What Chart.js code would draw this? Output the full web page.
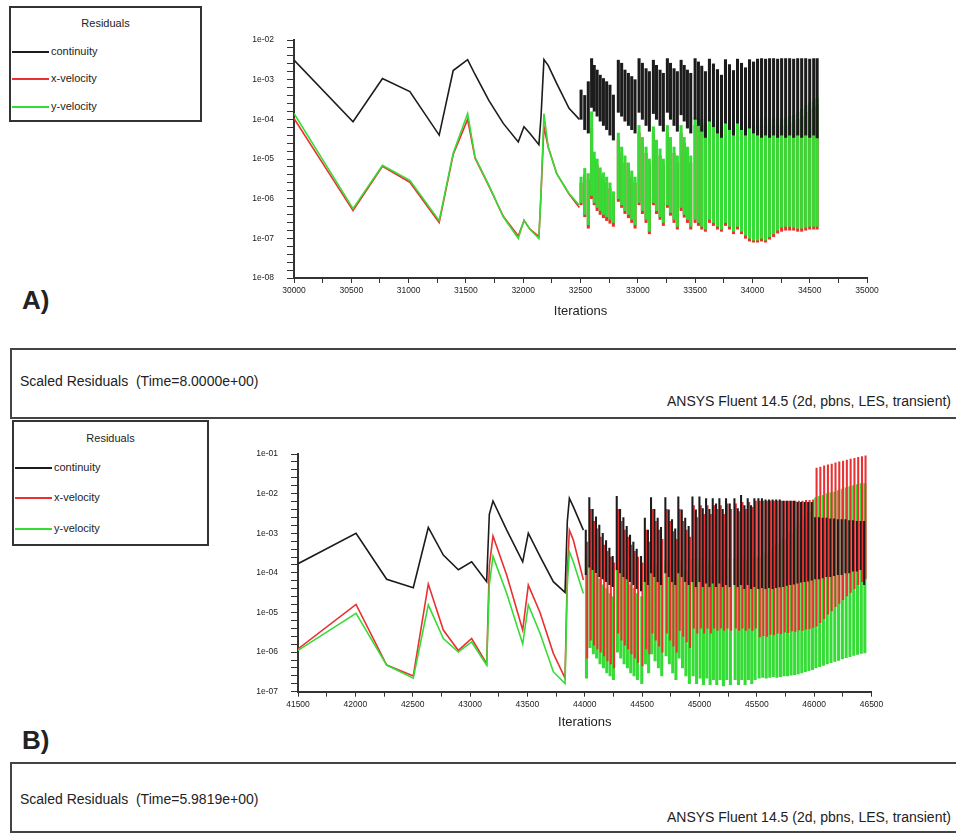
<!DOCTYPE html>
<html>
<head>
<meta charset="utf-8">
<script src="https://cdn.jsdelivr.net/npm/chart.js@4.4.1/dist/chart.umd.min.js"></script>
<style>
body { margin: 0; width: 956px; height: 833px; background: #fff; position: relative; overflow: hidden;
       font-family: 'Liberation Sans', Arial, sans-serif; color: #222; }
canvas { position: absolute; }
.legend { position: absolute; border: 2px solid #333; box-sizing: border-box; background: #fff; }
.legend .title { position: absolute; left: 0; width: 100%; text-align: center; font-size: 11px; line-height: 13px; }
.legend .item { position: absolute; font-size: 11px; line-height: 13px; white-space: nowrap; }
.legend .item i { display: inline-block; width: 37px; border-top: 2px solid; vertical-align: middle; margin-right: 2px; }
.panel { position: absolute; left: 22px; font-weight: bold; font-size: 26px; line-height: 30px; }
.caption { position: absolute; left: 10px; width: 960px; height: 71px; border: 2px solid #444; box-sizing: border-box; }
.txt { position: absolute; font-size: 14px; line-height: 16px; white-space: pre; }
</style>
</head>
<body>

<div class="legend" style="left:9px; top:6px; width:193px; height:116px;">
    <div class="title" style="top:9px;">Residuals</div>
    <div class="item" style="left:1px; top:37px;"><i style="border-color:#1c1c1c"></i>continuity</div>
    <div class="item" style="left:1px; top:64px;"><i style="border-color:#ea3030"></i>x-velocity</div>
    <div class="item" style="left:1px; top:92px;"><i style="border-color:#36dc36"></i>y-velocity</div>
</div>
<canvas id="chartA" width="660" height="310" style="left:230px; top:20px;"></canvas>
<div class="panel" style="top:285px;">A)</div>
<div class="caption" style="top:348px;"></div>
<div class="txt" style="left:20px; top:373px;">Scaled Residuals  (Time=8.0000e+00)</div>
<div class="txt" style="right:5px; top:393px;">ANSYS Fluent 14.5 (2d, pbns, LES, transient)</div>

<div class="legend" style="left:12px; top:420px; width:197px; height:126px;">
    <div class="title" style="top:10px;">Residuals</div>
    <div class="item" style="left:1px; top:39px;"><i style="border-color:#1c1c1c"></i>continuity</div>
    <div class="item" style="left:1px; top:69px;"><i style="border-color:#ea3030"></i>x-velocity</div>
    <div class="item" style="left:1px; top:100px;"><i style="border-color:#36dc36"></i>y-velocity</div>
</div>
<canvas id="chartB" width="660" height="310" style="left:230px; top:434px;"></canvas>
<div class="panel" style="top:725px;">B)</div>
<div class="caption" style="top:762px;"></div>
<div class="txt" style="left:20px; top:791px;">Scaled Residuals  (Time=5.9819e+00)</div>
<div class="txt" style="right:5px; top:809px;">ANSYS Fluent 14.5 (2d, pbns, LES, transient)</div>

<script>
// ---------------- panel A data ----------------
const xLabelsA = ['30000', '30500', '31000', '31500', '32000', '32500', '33000', '33500', '34000', '34500', '35000'];
const yLabelsA = ['1e-08', '1e-07', '1e-06', '1e-05', '1e-04', '1e-03', '1e-02'];

// smooth part before the time-step oscillation
const itersPreA = [30000, 30515, 30772, 31011, 31267, 31389, 31515, 31580, 31700, 31826, 31957, 32007, 32059, 32137, 32155, 32181, 32218, 32292, 32400, 32490];
const contPreA = [3.1e-3, 8.7e-5, 1.07e-3, 5e-4, 4e-5, 1.7e-3, 3.2e-3, 1.35e-3, 3e-4, 7.9e-5, 2.7e-5, 6.5e-5, 4.4e-5, 2.3e-5, 1.1e-4, 3.2e-3, 2.3e-3, 8.1e-4, 1.9e-4, 1e-4];
const xvelPreA = [1.05e-4, 5e-7, 6.5e-6, 2.6e-6, 2.5e-7, 1.3e-5, 1e-4, 1.05e-5, 2.1e-6, 3.6e-7, 1.15e-7, 2.8e-7, 1.7e-7, 1.1e-7, 1.2e-6, 6.5e-5, 2e-5, 4.3e-6, 1.3e-6, 6e-7];
const yvelPreA = [1.4e-4, 5.6e-7, 6.9e-6, 2.9e-6, 2.8e-7, 1.4e-5, 1.4e-4, 1.1e-5, 2.2e-6, 3.5e-7, 1e-7, 2.9e-7, 1.7e-7, 9.8e-8, 1.3e-6, 1.4e-4, 2e-5, 4.3e-6, 1.35e-6, 6.8e-7];

// time steps: each step spans from a low to a high residual
const stepsA = [32505, 32537, 32568,
    32597, 32620, 32645, 32672, 32700, 32728, 32757, 32787,
    32830, 32859, 32888, 32918, 32947, 32976,
    33011, 33040, 33072, 33101,
    33136, 33163, 33194, 33223,
    33258, 33285, 33316, 33345,
    33378, 33405, 33433, 33462,
    33500, 33529, 33558, 33590,
    33625, 33660, 33695, 33730,
    33765, 33800, 33835,
    33870, 33905, 33940,
    33975, 34010,
    34045, 34080, 34115, 34150, 34185, 34220, 34255, 34290, 34325, 34360, 34395, 34430, 34465, 34500, 34535, 34565];
const contHiA = [5.5e-4, 4e-4, 8.9e-4,
    3.4e-3, 2.3e-3, 1.75e-3, 1.3e-3, 1.07e-3, 8.9e-4, 7.3e-4, 4.1e-4,
    3.1e-3, 2.6e-3, 1.75e-3, 1.45e-3, 1.2e-3, 1e-3,
    3.4e-3, 2.6e-3, 1.9e-3, 1.6e-3,
    3.1e-3, 2.3e-3, 1.75e-3, 1.45e-3,
    3.4e-3, 2.6e-3, 1.9e-3, 1.6e-3,
    3.1e-3, 2.3e-3, 1.75e-3, 1.45e-3,
    3.4e-3, 2.8e-3, 2.2e-3, 1.6e-3,
    3.3e-3, 2.5e-3, 1.8e-3, 1.3e-3,
    3.2e-3, 2.4e-3, 1.7e-3,
    3.3e-3, 2.6e-3, 2e-3,
    3.2e-3, 2.8e-3,
    3.3e-3, 3.4e-3, 3.3e-3, 3.4e-3, 3.4e-3, 3.3e-3, 3.4e-3, 3.4e-3, 3.4e-3, 3.3e-3, 3.4e-3, 3.4e-3, 3.4e-3, 3.3e-3, 3.4e-3, 3.4e-3];
const contLoA = [1e-4, 5.5e-5, 4.5e-5,
    2e-4, 1.6e-4, 1.2e-4, 9e-5, 7e-5, 5.5e-5, 4e-5, 3e-5,
    1.5e-4, 1.2e-4, 9e-5, 7e-5, 5.5e-5, 4.5e-5,
    1.5e-4, 1e-4, 7e-5, 5e-5,
    1.4e-4, 1e-4, 7e-5, 5e-5,
    1.5e-4, 1e-4, 7e-5, 5e-5,
    1.3e-4, 9e-5, 6e-5, 4.5e-5,
    1e-4, 7e-5, 5e-5, 3.5e-5,
    9e-5, 6.5e-5, 4.5e-5, 3.5e-5,
    8e-5, 5.5e-5, 4e-5,
    8e-5, 5.5e-5, 4e-5,
    6e-5, 4.5e-5,
    4e-5, 3.5e-5, 4e-5, 3.5e-5, 4e-5, 3.5e-5, 4e-5, 3.5e-5, 4e-5, 3.5e-5, 4e-5, 3.5e-5, 4e-5, 3.5e-5, 4e-5, 3.4e-5];
const xvelHiA = [2.5e-6, 4e-6, 3e-6,
    6e-5, 1e-5, 7e-6, 4e-6, 3e-6, 2.5e-6, 1.8e-6, 1.1e-6,
    3e-5, 1.4e-5, 8e-6, 5.5e-6, 3.5e-6, 2.5e-6,
    4.5e-5, 2.5e-5, 1.4e-5, 7e-6,
    4.5e-5, 2e-5, 1.2e-5, 7e-6,
    4.5e-5, 2.5e-5, 1.4e-5, 8e-6,
    4.5e-5, 2.5e-5, 1.4e-5, 8e-6,
    7e-5, 6e-5, 7e-5, 5e-5,
    7e-5, 6e-5, 7e-5, 5e-5,
    7e-5, 6e-5, 7e-5,
    7e-5, 6e-5, 7e-5,
    7e-5, 7e-5,
    7e-5, 7e-5, 7e-5, 7e-5, 7e-5, 7e-5, 7e-5, 7e-5, 8e-5, 9e-5, 1e-4, 1.2e-4, 1.5e-4, 1.8e-4, 2e-4, 2.2e-4];
const xvelLoA = [7e-7, 3.5e-7, 1.8e-7,
    1e-6, 7e-7, 5e-7, 4e-7, 3.3e-7, 2.8e-7, 2.4e-7, 2e-7,
    8.5e-7, 6e-7, 4.2e-7, 3.3e-7, 2.5e-7, 1.8e-7,
    7e-7, 4.2e-7, 2.5e-7, 1.3e-7,
    7e-7, 4.2e-7, 3e-7, 2.1e-7,
    6e-7, 3.8e-7, 2.5e-7, 1.7e-7,
    5e-7, 3.4e-7, 2.5e-7, 1.7e-7,
    2.5e-7, 2.1e-7, 1.7e-7, 1.5e-7,
    2.5e-7, 2.1e-7, 1.7e-7, 1.5e-7,
    2.1e-7, 1.7e-7, 1.3e-7,
    1.7e-7, 1.3e-7, 1e-7,
    8.5e-8, 8e-8,
    8e-8, 8.5e-8, 8e-8, 9.5e-8, 1.1e-7, 1.35e-7, 1.5e-7, 1.6e-7, 1.6e-7, 1.6e-7, 1.5e-7, 1.5e-7, 1.6e-7, 1.7e-7, 1.7e-7, 1.7e-7];
const yvelHiA = [3.5e-6, 5.8e-6, 4.3e-6,
    1.55e-4, 1.5e-5, 1e-5, 6e-6, 4.5e-6, 3.5e-6, 2.5e-6, 1.5e-6,
    4.5e-5, 2e-5, 1.2e-5, 8e-6, 5e-6, 3.5e-6,
    7e-5, 3.5e-5, 2e-5, 1e-5,
    6.5e-5, 3e-5, 1.8e-5, 1e-5,
    7e-5, 3.5e-5, 2e-5, 1.2e-5,
    7e-5, 3.5e-5, 2e-5, 1.2e-5,
    1.1e-4, 9e-5, 1e-4, 8e-5,
    1.1e-4, 9e-5, 1e-4, 8e-5,
    1.1e-4, 9e-5, 1e-4,
    1.1e-4, 9e-5, 1e-4,
    1.1e-4, 1e-4,
    1.1e-4, 1e-4, 1.1e-4, 1e-4, 1.1e-4, 1.1e-4, 1e-4, 1.1e-4, 1.2e-4, 1.3e-4, 1.5e-4, 1.8e-4, 2.2e-4, 2.6e-4, 3e-4, 3.4e-4];
const yvelLoA = [8e-7, 4e-7, 2.2e-7,
    1.2e-6, 8e-7, 6e-7, 5e-7, 4e-7, 3.5e-7, 3e-7, 2.5e-7,
    1e-6, 7e-7, 5e-7, 4e-7, 3e-7, 2.2e-7,
    8e-7, 5e-7, 3e-7, 1.5e-7,
    8e-7, 5e-7, 3.5e-7, 2.5e-7,
    7e-7, 4.5e-7, 3e-7, 2e-7,
    6e-7, 4e-7, 3e-7, 2e-7,
    3e-7, 2.5e-7, 2e-7, 1.7e-7,
    3e-7, 2.5e-7, 2e-7, 1.7e-7,
    2.5e-7, 2e-7, 1.5e-7,
    2e-7, 1.5e-7, 1.2e-7,
    1e-7, 9e-8,
    9e-8, 1e-7, 9e-8, 1.1e-7, 1.3e-7, 1.6e-7, 1.9e-7, 2e-7, 2e-7, 1.9e-7, 1.8e-7, 1.8e-7, 1.9e-7, 2e-7, 2e-7, 2e-7];

// ---------------- panel B data ----------------
const xLabelsB = ['41500', '42000', '42500', '43000', '43500', '44000', '44500', '45000', '45500', '46000', '46500'];
const yLabelsB = ['1e-07', '1e-06', '1e-05', '1e-04', '1e-03', '1e-02', '1e-01'];

const itersPreB = [41500, 42006, 42273, 42505, 42636, 42767, 42898, 43014, 43145, 43168, 43200, 43320, 43459, 43508, 43610, 43726, 43828, 43848, 43866, 43900, 43988];
const contPreB = [1.7e-4, 1e-3, 6.9e-5, 4.2e-5, 1.4e-3, 2.8e-4, 1.2e-4, 1.9e-4, 6e-5, 3e-3, 6.5e-3, 1.2e-3, 1.9e-4, 1e-3, 2.6e-4, 6e-5, 3.2e-5, 2e-3, 7.6e-3, 4.7e-3, 1.2e-3];
const xvelPreB = [1.2e-6, 1.6e-5, 4.7e-7, 2.5e-7, 5.2e-5, 3.6e-6, 1.1e-6, 2.2e-6, 5.1e-7, 1.5e-4, 8.5e-4, 8.7e-5, 3.6e-6, 4.9e-5, 1e-5, 9.3e-7, 2.2e-7, 1e-4, 1.2e-3, 6.8e-4, 6.6e-5];
const yvelPreB = [1.1e-6, 9.5e-6, 4.7e-7, 2.2e-7, 1.55e-5, 2.2e-6, 1e-6, 1.8e-6, 4.7e-7, 5e-5, 2.6e-4, 3e-5, 1.6e-6, 1.55e-5, 3e-6, 3.2e-7, 1.6e-7, 5e-5, 3.4e-4, 1.9e-4, 3e-5];

const stepsB = [44015, 44046, 44075, 44104, 44133, 44163, 44192, 44221, 44250,
    44285, 44314, 44343, 44372, 44401, 44430, 44459, 44497, 44530, 44557,
    44584, 44613, 44642, 44671,
    44709, 44738, 44767, 44795,
    44822, 44852, 44882, 44912,
    44945, 44975, 45006, 45035, 45064, 45093, 45122, 45151, 45180, 45209, 45238, 45270, 45311, 45340, 45369, 45398, 45427, 45456, 45485,
    45520, 45551, 45582, 45613, 45644, 45675, 45706, 45737, 45768, 45799, 45830, 45861, 45892, 45923, 45954, 45985,
    46015, 46048, 46081, 46114, 46147, 46180, 46213, 46246, 46279, 46312, 46345, 46378, 46411, 46442];
const contHiB = [1.2e-3, 8e-3, 4e-3, 2.6e-3, 1.6e-3, 1e-3, 6.5e-4, 4.2e-4, 2.6e-4,
    8.5e-3, 4e-3, 2.5e-3, 1.5e-3, 9e-4, 6e-4, 4e-4, 2.6e-4, 2.4e-3, 1.2e-3,
    8e-3, 4e-3, 2.4e-3, 1.4e-3,
    8e-3, 3.9e-3, 2.2e-3, 1.3e-3,
    8.3e-3, 3.9e-3, 2.4e-3, 1.5e-3,
    8.3e-3, 3.9e-3, 8.3e-3, 4.2e-3, 7.5e-3, 4e-3, 7.5e-3, 5.5e-3, 7.5e-3, 4e-3, 7.5e-3, 5.5e-3, 7.5e-3, 4.2e-3, 9e-3, 5e-3, 7.5e-3, 5e-3, 7.5e-3,
    7.5e-3, 7.5e-3, 7e-3, 7e-3, 7e-3, 7e-3, 7e-3, 6.5e-3, 6.5e-3, 6.5e-3, 6.5e-3, 6e-3, 6e-3, 6e-3, 6e-3, 6e-3,
    2.5e-3, 2.5e-3, 2.4e-3, 2.4e-3, 2.3e-3, 2.3e-3, 2.2e-3, 2.2e-3, 2.2e-3, 2.1e-3, 2.1e-3, 2e-3, 2e-3, 2e-3];
const contLoB = [9e-5, 1.4e-4, 1.2e-4, 1e-4, 8e-5, 7e-5, 6e-5, 5e-5, 4.5e-5,
    1.2e-4, 1e-4, 8e-5, 7e-5, 6e-5, 5e-5, 4e-5, 3.5e-5, 6e-5, 5e-5,
    1e-4, 8e-5, 6e-5, 5e-5,
    1e-4, 8e-5, 6e-5, 5e-5,
    1e-4, 8e-5, 6e-5, 5e-5,
    6e-5, 4.5e-5, 6e-5, 4.5e-5, 5.5e-5, 4.5e-5, 5.5e-5, 4.5e-5, 5.5e-5, 4.5e-5, 5e-5, 4.5e-5, 5e-5, 4.5e-5, 5e-5, 4e-5, 5e-5, 4e-5, 4.5e-5,
    4e-5, 4.2e-5, 4e-5, 4.2e-5, 4e-5, 4.2e-5, 4.4e-5, 4.5e-5, 4.8e-5, 5e-5, 5.2e-5, 5.5e-5, 5.8e-5, 6e-5, 6.2e-5, 6.5e-5,
    7e-5, 7e-5, 7.5e-5, 8e-5, 8e-5, 8.5e-5, 9e-5, 9e-5, 1e-4, 1e-4, 1.1e-4, 1.1e-4, 1.2e-4, 5e-5];
const xvelHiB = [6e-4, 4e-3, 2e-3, 1.3e-3, 8e-4, 5e-4, 3.5e-4, 2.5e-4, 1.8e-4,
    4e-3, 2e-3, 1.2e-3, 8e-4, 5e-4, 3.5e-4, 2.5e-4, 1.8e-4, 1.2e-3, 6e-4,
    4e-3, 2e-3, 1.2e-3, 7e-4,
    4e-3, 2e-3, 1.1e-3, 7e-4,
    4e-3, 2e-3, 1.2e-3, 8e-4,
    5e-3, 2.5e-3, 5e-3, 3e-3, 5e-3, 3e-3, 5e-3, 4e-3, 5e-3, 3e-3, 5.5e-3, 4e-3, 5.5e-3, 3.5e-3, 6e-3, 4e-3, 6e-3, 4.5e-3, 6.5e-3,
    6.5e-3, 6.5e-3, 6.5e-3, 6.5e-3, 6.5e-3, 6.5e-3, 6.5e-3, 6.5e-3, 6.5e-3, 6.5e-3, 6.5e-3, 6.5e-3, 6.5e-3, 6.8e-3, 6.8e-3, 7e-3,
    4.4e-2, 4.7e-2, 5e-2, 5.3e-2, 5.6e-2, 6e-2, 6.3e-2, 6.6e-2, 7e-2, 7.4e-2, 7.8e-2, 8.2e-2, 8.6e-2, 9e-2];
const xvelLoB = [7e-7, 2e-6, 1.5e-6, 1.2e-6, 1e-6, 8e-7, 6e-7, 5e-7, 4e-7,
    3e-6, 2e-6, 1.5e-6, 1.2e-6, 9e-7, 7e-7, 5.5e-7, 4.5e-7, 1.2e-6, 9e-7,
    3e-6, 2e-6, 1.4e-6, 1e-6,
    3e-6, 2e-6, 1.4e-6, 1e-6,
    3.5e-6, 2.5e-6, 1.8e-6, 1.3e-6,
    4e-6, 3e-6, 4e-6, 3e-6, 4e-6, 3e-6, 4e-6, 3.5e-6, 4e-6, 3.5e-6, 4e-6, 3.5e-6, 4e-6, 3.5e-6, 4e-6, 3.5e-6, 4e-6, 3.5e-6, 4e-6,
    2.4e-6, 2.6e-6, 2.5e-6, 2.8e-6, 2.7e-6, 3e-6, 2.9e-6, 3.2e-6, 3.1e-6, 3.4e-6, 3.3e-6, 3.6e-6, 3.5e-6, 3.8e-6, 3.9e-6, 4.2e-6,
    4.5e-6, 5.5e-6, 7e-6, 9e-6, 1.1e-5, 1.4e-5, 1.7e-5, 2.1e-5, 2.6e-5, 3.2e-5, 4e-5, 5e-5, 6e-5, 7e-5];
const yvelHiB = [2.6e-4, 1.5e-4, 1.2e-4, 9e-5, 7e-5, 5e-5, 4e-5, 3e-5, 2.5e-5,
    1.5e-4, 1.2e-4, 9e-5, 7e-5, 5e-5, 4e-5, 3e-5, 2.5e-5, 1e-4, 7e-5,
    2e-4, 1.5e-4, 1e-4, 7e-5,
    2e-4, 1.5e-4, 1e-4, 7e-5,
    2e-4, 1.5e-4, 1.1e-4, 8e-5,
    2.2e-4, 1.6e-4, 2.2e-4, 1.6e-4, 2.2e-4, 1.7e-4, 2.2e-4, 1.8e-4, 2.2e-4, 1.8e-4, 2.3e-4, 1.9e-4, 2.3e-4, 1.9e-4, 2.4e-4, 2e-4, 2.4e-4, 2.1e-4, 2.4e-4,
    2.5e-4, 2.8e-4, 3.2e-4, 3.6e-4, 4.2e-4, 5e-4, 6e-4, 7e-4, 8.5e-4, 1e-3, 1.3e-3, 1.6e-3, 2e-3, 2.6e-3, 3.4e-3, 4.5e-3,
    8e-3, 8.5e-3, 9e-3, 1e-2, 1.05e-2, 1.1e-2, 1.2e-2, 1.3e-2, 1.4e-2, 1.5e-2, 1.6e-2, 1.7e-2, 1.8e-2, 1.8e-2];
const yvelLoB = [2.2e-7, 1.3e-6, 9e-7, 7e-7, 5e-7, 4e-7, 3e-7, 2.5e-7, 2e-7,
    1e-6, 7e-7, 5e-7, 4e-7, 3e-7, 2.5e-7, 2e-7, 1.6e-7, 5e-7, 3e-7,
    9e-7, 6e-7, 4e-7, 2.5e-7,
    8e-7, 5e-7, 3e-7, 2e-7,
    7e-7, 4e-7, 2.5e-7, 1.6e-7,
    2.5e-7, 1.6e-7, 2.2e-7, 1.5e-7, 2.2e-7, 1.5e-7, 2e-7, 1.5e-7, 2e-7, 1.4e-7, 2e-7, 1.5e-7, 2e-7, 1.5e-7, 2e-7, 1.5e-7, 2e-7, 1.6e-7, 2e-7,
    2.2e-7, 2.3e-7, 2.2e-7, 2.3e-7, 2.4e-7, 2.3e-7, 2.4e-7, 2.5e-7, 2.5e-7, 2.6e-7, 2.7e-7, 2.8e-7, 3e-7, 3.2e-7, 3.4e-7, 3.6e-7,
    4e-7, 4.3e-7, 4.6e-7, 5e-7, 5.4e-7, 5.8e-7, 6.2e-7, 6.7e-7, 7.2e-7, 7.7e-7, 8.2e-7, 8.7e-7, 9.2e-7, 9.5e-7];

const contColor = '#1c1c1c';
const xvelColor = '#ea3030';
const yvelColor = '#36dc36';
const fontFamily = "'Liberation Sans', Arial, sans-serif";

// ------------------------------------------------------------------------------------

function toPoints(xs, ys) {
    return xs.map(function (x, i) { return { x: x, y: ys[i] }; });
}

function toBars(xs, lo, hi) {
    return xs.map(function (x, i) { return { x: x, y: [lo[i], hi[i]] }; });
}

// fluent style log axis: labelled decades, 4 minor ticks between
function logTicks(labels) {
    var ticks = [];
    labels.forEach(function (lab, i) {
        var v = parseFloat(lab);
        ticks.push({ value: v, major: true });
        if (i < labels.length - 1) {
            for (var k = 1; k < 5; k++) ticks.push({ value: v * Math.pow(10, k / 5) });
        }
    });
    return ticks;
}

function residualChart(id, p) {
    var ctx = document.getElementById(id).getContext('2d');
    var yVals = p.yLabels.map(parseFloat);

    function line(label, data, color, order) {
        return { type: 'line', label: label, data: data, borderColor: color, borderWidth: 1.6,
                 pointRadius: 0, fill: false, tension: 0, order: order };
    }
    // s = [order, thickness, grouped]
    function bar(label, data, color, s) {
        return { type: 'bar', label: label, data: data, backgroundColor: color, borderWidth: 0,
                 order: s[0], barThickness: s[1], grouped: s[2] };
    }

    return new Chart(ctx, {
        type: 'bar',
        data: {
            datasets: [
                line('continuity', toPoints(p.preIters, p.contPre), contColor, 1),
                line('y-velocity', toPoints(p.preIters, p.yvelPre), yvelColor, 2),
                line('x-velocity', toPoints(p.preIters, p.xvelPre), xvelColor, 3),
                bar('continuity', toBars(p.steps, p.contLo, p.contHi), contColor, p.contBar),
                bar('x-velocity', toBars(p.steps, p.xvelLo, p.xvelHi), xvelColor, p.xvelBar),
                bar('y-velocity', toBars(p.steps, p.yvelLo, p.yvelHi), yvelColor, p.yvelBar)
            ]
        },
        options: {
            responsive: false,
            animation: false,
            devicePixelRatio: 1,
            layout: { padding: { top: 20, right: p.padRight, left: 0, bottom: 0 } },
            plugins: { legend: { display: false }, tooltip: { enabled: false } },
            scales: {
                x: {
                    type: 'linear',
                    min: parseFloat(p.xLabels[0]),
                    max: parseFloat(p.xLabels[p.xLabels.length - 1]),
                    offset: false,
                    grid: { drawOnChartArea: false, offset: false, tickLength: 5, tickColor: '#333' },
                    border: { color: '#333', width: 2 },
                    ticks: {
                        stepSize: 250, maxTicksLimit: 100, autoSkip: false, maxRotation: 0, padding: 3,
                        color: '#222', font: { family: fontFamily, size: 8.5 },
                        callback: function (v) { return p.xLabels.indexOf(String(v)) >= 0 ? String(v) : ''; }
                    },
                    title: {
                        display: true, text: 'Iterations', color: '#222',
                        font: { family: fontFamily, size: 13 },
                        padding: { top: 0, bottom: p.titlePad }
                    },
                    afterFit: function (s) { s.height = p.xHeight; }
                },
                y: {
                    type: 'logarithmic',
                    min: yVals[0],
                    max: yVals[yVals.length - 1],
                    grid: { drawOnChartArea: false, tickLength: 7, tickColor: '#333' },
                    border: { color: '#333', width: 2 },
                    ticks: {
                        autoSkip: false, padding: 13, color: '#222',
                        font: { family: fontFamily, size: 8.5 },
                        callback: function (v) {
                            var i = yVals.indexOf(v);
                            return i >= 0 ? p.yLabels[i] : '';
                        }
                    },
                    afterBuildTicks: function (s) { s.ticks = logTicks(p.yLabels); },
                    afterFit: function (s) { s.width = p.yWidth; }
                }
            }
        }
    });
}

// A: bars drawn on top of each other (black over green over red)
var chartA = residualChart('chartA', {
    xLabels: xLabelsA, yLabels: yLabelsA,
    preIters: itersPreA, contPre: contPreA, xvelPre: xvelPreA, yvelPre: yvelPreA,
    steps: stepsA, contHi: contHiA, contLo: contLoA, xvelHi: xvelHiA, xvelLo: xvelLoA, yvelHi: yvelHiA, yvelLo: yvelLoA,
    contBar: [1, 2.4, false], yvelBar: [2, 2.4, false], xvelBar: [3, 2.4, false],
    padRight: 23, yWidth: 64, xHeight: 52, titlePad: 11
});

// B: wide green underneath, black and red side by side on top of it
var chartB = residualChart('chartB', {
    xLabels: xLabelsB, yLabels: yLabelsB,
    preIters: itersPreB, contPre: contPreB, xvelPre: xvelPreB, yvelPre: yvelPreB,
    steps: stepsB, contHi: contHiB, contLo: contLoB, xvelHi: xvelHiB, xvelLo: xvelLoB, yvelHi: yvelHiB, yvelLo: yvelLoB,
    contBar: [1, 1.4, true], xvelBar: [2, 1.4, true], yvelBar: [3, 2.4, false],
    padRight: 18.5, yWidth: 68, xHeight: 52.3, titlePad: 14
});
</script>
</body>
</html>
